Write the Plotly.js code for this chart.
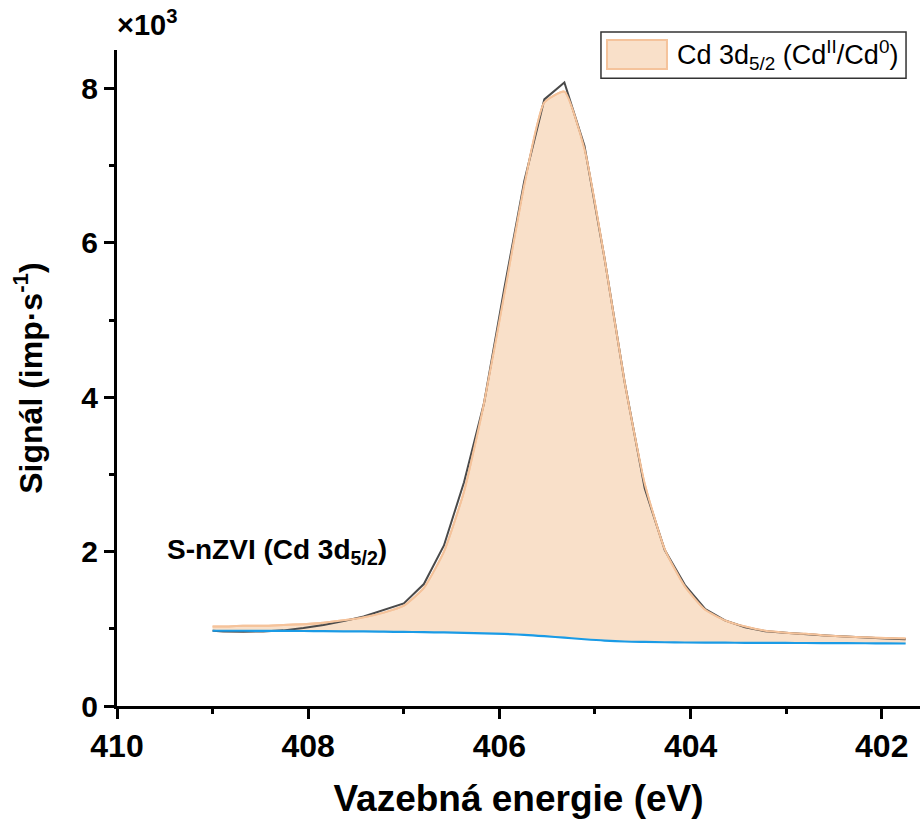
<!DOCTYPE html>
<html>
<head>
<meta charset="utf-8">
<script src="https://cdn.plot.ly/plotly-3.0.1.min.js"></script>
<style>html,body{margin:0;padding:0;background:#fff;}#chart{width:921px;height:825px;}</style>
</head>
<body>
<div id="chart"></div>
<script>
// Binding energy (eV)
const energy = [409.00, 408.89, 408.68, 408.47, 408.26, 408.05, 407.84, 407.63, 407.42, 407.21,
  407.00, 406.79, 406.58, 406.37, 406.16, 405.95, 405.74, 405.53, 405.32, 405.11,
  404.90, 404.69, 404.48, 404.27, 404.06, 403.85, 403.64, 403.43, 403.22, 403.01,
  402.80, 402.59, 402.38, 402.17, 401.96, 401.75];
// Measured signal (imp/s)
const measured = [975, 965, 962, 966, 980, 1010, 1050, 1100, 1160, 1240,
  1330, 1580, 2080, 2900, 3930, 5400, 6800, 7860, 8080, 7260,
  5800, 4200, 2820, 2020, 1570, 1260, 1110, 1020, 970, 950,
  930, 915, 900, 885, 875, 865];
// Fitted component Cd 3d5/2 (CdII/Cd0), envelope incl. background (imp/s)
const fitted = [1030, 1030, 1040, 1040, 1050, 1060, 1080, 1110, 1150, 1210,
  1300, 1530, 2000, 2780, 3930, 5330, 6750, 7820, 7960, 7220,
  5800, 4200, 2880, 2030, 1550, 1250, 1110, 1030, 975, 950,
  935, 915, 900, 890, 880, 875];
// Background (imp/s)
const background = [975, 975, 975, 974, 973, 972, 970, 968, 966, 963,
  960, 957, 953, 948, 942, 934, 922, 905, 885, 865,
  848, 836, 830, 826, 823, 821, 820, 819, 818, 817,
  816, 815, 814, 813, 812, 810];

const yTickVals = [0, 2000, 4000, 6000, 8000];
const yTickText = ['0', '2', '4', '6', '8'];
const yMinorVals = [1000, 3000, 5000, 7000];
const xTickVals = [410, 408, 406, 404, 402];
const xMinorVals = [409, 407, 405, 403];

const legendLabel = 'Cd 3d<sub>5/2</sub> (Cd<sup>II</sup>/Cd<sup>0</sup>)';
const sampleLabel = 'S-nZVI (Cd 3d<sub>5/2</sub>)';

const fontFam = 'Liberation Sans, Arial, sans-serif';
const fillCol = 'rgba(249,224,201,1)';
const fitLineCol = '#f5c39b';

const data = [
  {x: energy, y: background, mode: 'lines', line: {color: 'rgba(0,0,0,0)', width: 0, shape: 'spline', smoothing: 1}, showlegend: false, hoverinfo: 'skip'},
  {x: energy, y: fitted, mode: 'lines', fill: 'tonexty', fillcolor: fillCol, line: {color: fitLineCol, width: 2, shape: 'spline', smoothing: 0.5}, showlegend: false, name: legendLabel},
  {x: energy, y: measured, mode: 'lines', line: {color: '#4a4a4a', width: 2}, showlegend: false, name: 'measured'},
  {x: energy, y: fitted, mode: 'lines', line: {color: fitLineCol, width: 2, shape: 'spline', smoothing: 0.5}, showlegend: false, name: 'fit line'},
  {x: energy, y: background, mode: 'lines', line: {color: '#1a9be6', width: 2.2, shape: 'spline', smoothing: 1}, showlegend: false, name: 'background'}
];

const layout = {
  width: 921, height: 825,
  margin: {l: 117, r: 1, t: 50, b: 119},
  paper_bgcolor: '#fff', plot_bgcolor: '#fff',
  font: {family: fontFam, color: '#000'},
  showlegend: false,
  xaxis: {
    range: [410, 401.6], autorange: false,
    showline: true, linecolor: '#000', linewidth: 3, mirror: false,
    showgrid: false, zeroline: false,
    ticks: 'outside', ticklen: 10, tickwidth: 3, tickcolor: '#000',
    tickmode: 'array', tickvals: xTickVals, ticktext: xTickVals.map(String),
    minor: {tickmode: 'array', tickvals: xMinorVals, ticks: 'outside', ticklen: 5, tickwidth: 3, tickcolor: '#000', showgrid: false},
    tickfont: {size: 32, family: fontFam, weight: 'bold', color: '#000'},
    title: {text: 'Vazebná energie (eV)', font: {size: 37, family: fontFam, weight: 'bold', color: '#000'}, standoff: 22}
  },
  yaxis: {
    range: [0, 8500], autorange: false,
    showline: true, linecolor: '#000', linewidth: 3, mirror: false,
    showgrid: false, zeroline: false,
    ticks: 'outside', ticklen: 10, tickwidth: 3, tickcolor: '#000',
    tickmode: 'array', tickvals: yTickVals, ticktext: yTickText,
    minor: {tickmode: 'array', tickvals: yMinorVals, ticks: 'outside', ticklen: 5, tickwidth: 3, tickcolor: '#000', showgrid: false},
    tickfont: {size: 30, family: fontFam, weight: 'bold', color: '#000'},
    title: {text: 'Signál (imp·s<sup>-1</sup>)', font: {size: 32, family: fontFam, weight: 'bold', color: '#000'}, standoff: 30}
  },
  shapes: [
    {type: 'rect', xref: 'paper', yref: 'paper', x0: 0.6027, x1: 0.9826, y0: 0.957, y1: 1.0274,
     line: {color: '#333', width: 1.5}, fillcolor: '#fff', layer: 'above'},
    {type: 'rect', xref: 'paper', yref: 'paper', x0: 0.6102, x1: 0.6849, y0: 0.971, y1: 1.0152,
     line: {color: fitLineCol, width: 2}, fillcolor: fillCol, layer: 'above'}
  ],
  annotations: [
    {xref: 'paper', yref: 'paper', x: 0.695, y: 0.992, xanchor: 'left', yanchor: 'middle', showarrow: false,
     text: legendLabel, font: {size: 27, family: fontFam, color: '#000'}},
    {xref: 'paper', yref: 'paper', x: 0.0598, y: 0.236, xanchor: 'left', yanchor: 'middle', showarrow: false,
     text: sampleLabel, font: {size: 28, family: fontFam, weight: 'bold', color: '#000'}},
    {xref: 'paper', yref: 'paper', x: -0.002, y: 1.01, xanchor: 'left', yanchor: 'bottom', showarrow: false,
     text: '×10<sup>3</sup>', font: {size: 29, family: fontFam, weight: 'bold', color: '#000'}}
  ]
};

Plotly.newPlot('chart', data, layout, {displayModeBar: false, staticPlot: true});
</script>
</body>
</html>
